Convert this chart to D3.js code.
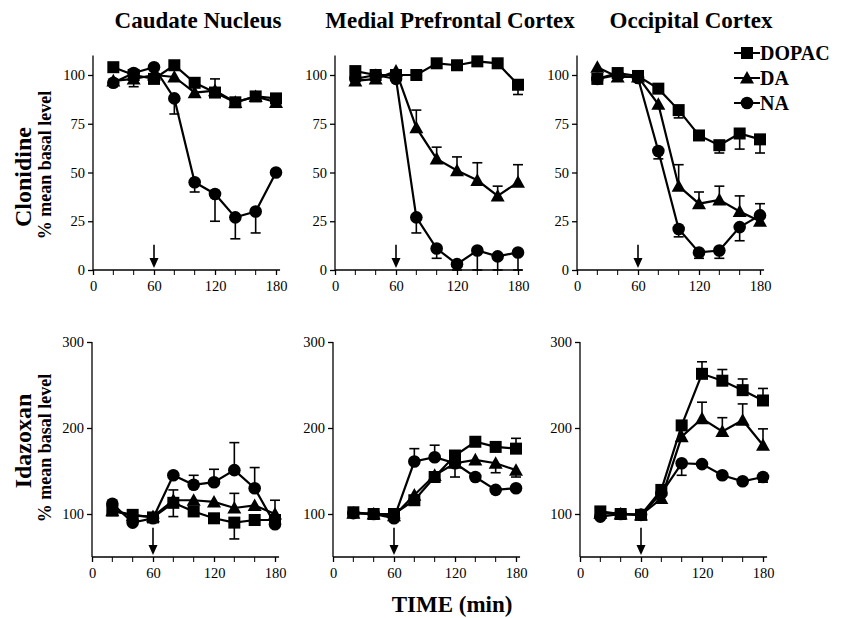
<!DOCTYPE html>
<html>
<head>
<meta charset="utf-8">
<script src="https://cdn.jsdelivr.net/npm/d3@7"></script>
<style>
  body { margin: 0; background: #fff; }
  svg text { font-family: "Liberation Serif", "Times New Roman", serif; fill: #000; }
</style>
</head>
<body>
<svg id="chart" width="845" height="618"></svg>
<script>
// sampling times (min)
const times = [20, 40, 60, 80, 100, 120, 140, 160, 180];
const regions = ["Caudate Nucleus", "Medial Prefrontal Cortex", "Occipital Cortex"];
const drugs = ["Clonidine", "Idazoxan"];
const seriesNames = ["DOPAC", "DA", "NA"];
const xTicks = [0, 60, 120, 180];
const xMinor = [20, 40, 80, 100, 140, 160];
const yTicksClon = [0, 25, 50, 75, 100];
const yTicksIdaz = [100, 200, 300];

// values per panel: [DOPAC, DA, NA], % of mean basal level
const clonCaudate = [
    [104, 100, 98, 105, 96, 91, 86, 89, 88],
    [97, 98, 100, 99, 91, 92, 86, 89, 86],
    [96, 101, 104, 88, 45, 39, 27, 30, 50]
];
const clonPrefrontal = [
    [102, 100, 100, 100, 106, 105, 107, 106, 95],
    [97, 98, 102, 73, 57, 51, 46, 38, 45],
    [98, 100, 98, 27, 11, 3, 10, 7, 9]
];
const clonOccipital = [
    [98, 101, 99.5, 93, 82, 69, 64, 70, 67],
    [104, 99, 99, 85, 43, 34, 36, 30, 25],
    [98, 100, 98.5, 61, 21, 9, 10, 22, 28]
];
const idazCaudate = [
    [104, 99, 96, 113, 103, 95, 90, 93, 93],
    [104, 98, 97, 116, 116, 114, 107, 110, 100],
    [112, 90, 95, 145, 134, 137, 151, 130, 88]
];
const idazPrefrontal = [
    [102, 100, 100, 116, 143, 168, 184, 178, 176],
    [101, 100, 98, 122, 145, 159, 163, 159, 151],
    [101, 100, 95, 161, 166, 159, 143, 128, 130]
];
const idazOccipital = [
    [103, 100, 99, 128, 203, 263, 255, 244, 232],
    [101, 100, 99, 118, 190, 211, 196, 209, 180],
    [97, 100, 99, 124, 159, 158, 145, 138, 143]
];

// one-sided SEM bars: + drawn upward, - drawn downward
const errClonCaudate = [
    [0, -6, 0, 0, 0, 0, 0, 0, 0],
    [0, 0, 0, 0, 0, 6, 0, 0, 0],
    [0, 0, 0, -8, -5, -14, -11, -11, 0]
];
const errClonPrefrontal = [
    [0, 0, 0, 0, 0, 0, 0, -2, -5],
    [0, 0, 0, 9, 6, 7, 9, 5, 9],
    [0, 0, 0, -8, -5, -3, -10, -7, -9]
];
const errClonOccipital = [
    [0, 0, 0, 0, -4, 0, -4, -8, -7],
    [0, 0, 0, 0, 11, 6, 7, 8, 0],
    [0, 0, 0, -4, -4, -3, -4, -7, 6]
];
const errIdazCaudate = [
    [0, 0, 0, -16, 0, 0, -19, 0, 0],
    [0, 0, 0, 12, 0, 0, 17, 0, 16],
    [0, 0, 0, 0, 11, 15, 32, 24, 0]
];
const errIdazPrefrontal = [
    [0, 0, 0, 0, 0, 0, 0, 0, 12],
    [0, 0, 0, 0, 0, 0, 0, -11, -8],
    [0, 0, 0, 15, 14, -16, 0, 0, 0]
];
const errIdazOccipital = [
    [0, 0, 0, 0, 0, 14, 13, 13, 14],
    [0, 0, 0, 0, 0, 19, 16, 19, 19],
    [0, 0, 0, 0, -14, 0, 0, 0, -6]
];

const panels = [
    {row: 0, col: 0, vals: clonCaudate, errs: errClonCaudate},
    {row: 0, col: 1, vals: clonPrefrontal, errs: errClonPrefrontal},
    {row: 0, col: 2, vals: clonOccipital, errs: errClonOccipital},
    {row: 1, col: 0, vals: idazCaudate, errs: errIdazCaudate},
    {row: 1, col: 1, vals: idazPrefrontal, errs: errIdazPrefrontal},
    {row: 1, col: 2, vals: idazOccipital, errs: errIdazOccipital}
];

const svg = d3.select("#chart");
const serif = "'Liberation Serif', 'Times New Roman', serif";

// left edge of each column's axis, per row
const colX = [[93, 335, 577], [92, 333, 580]];
const plotW = 183;

function yScaleFor(row) {
    if (row === 0) {
        return d3.scaleLinear().domain([0, 100]).range([270, 75]);
    }
    return d3.scaleLinear().domain([50, 300]).range([557, 342]);
}

function drawMarker(g, kind, cx, cy) {
    if (kind === 0) {
        g.append("rect").attr("x", cx - 6).attr("y", cy - 6)
            .attr("width", 12).attr("height", 12).attr("fill", "#000");
    } else if (kind === 1) {
        let s = 7;
        g.append("path")
            .attr("d", `M${cx},${cy - s} L${cx + s},${cy + s * 0.8} L${cx - s},${cy + s * 0.8} Z`)
            .attr("fill", "#000");
    } else {
        g.append("circle").attr("cx", cx).attr("cy", cy).attr("r", 6.3).attr("fill", "#000");
    }
}

panels.forEach(function(p) {
    let x0 = colX[p.row][p.col];
    let x = d3.scaleLinear().domain([0, 180]).range([x0, x0 + plotW]);
    let y = yScaleFor(p.row);
    let yTop = p.row === 0 ? 110 : 300;
    let yBot = p.row === 0 ? 0 : 50;
    let g = svg.append("g");

    // axes
    let xAxis = g.append("g").attr("transform", `translate(0,${y(yBot)})`)
        .call(d3.axisBottom(x).tickValues(xTicks).tickSize(5).tickSizeOuter(0).tickPadding(6));
    xAxis.select(".domain").attr("d", `M${x0},0H${x(184)}`);
    g.append("g").attr("transform", `translate(0,${y(yBot)})`)
        .selectAll("line").data(xMinor).enter().append("line")
        .attr("x1", (d) => x(d)).attr("x2", (d) => x(d))
        .attr("y1", 0).attr("y2", 5).attr("stroke", "#000");

    let yAxis = g.append("g").attr("transform", `translate(${x0},0)`)
        .call(d3.axisLeft(y).tickValues(p.row === 0 ? yTicksClon : yTicksIdaz)
            .tickSize(5).tickSizeOuter(0).tickPadding(3));
    yAxis.select(".domain").attr("d", `M0,${y(yTop)}V${y(yBot)}`);
    [xAxis, yAxis].forEach(function(ax) {
        ax.attr("font-family", serif).attr("font-size", 14.5);
    });
    g.selectAll(".domain, .tick line").attr("stroke", "#000").attr("stroke-width", 1.3);
    g.selectAll(".tick text").style("font-family", serif).attr("fill", "#000");

    // drug injection arrow at 60 min
    let a0 = p.row === 0 ? y(13) : y(84);
    let a1 = y(yBot) - 2;
    g.append("line").attr("x1", x(60)).attr("x2", x(60))
        .attr("y1", a0).attr("y2", a1 - 8).attr("stroke", "#000").attr("stroke-width", 1.6);
    g.append("path")
        .attr("d", `M${x(60) - 4.5},${a1 - 10} L${x(60) + 4.5},${a1 - 10} L${x(60)},${a1} Z`)
        .attr("fill", "#000");

    let line = d3.line().x((d) => x(d[0])).y((d) => y(d[1]));

    p.vals.forEach(function(vals, k) {
        let pts = times.map((t, i) => [t, vals[i]]);
        let errs = p.errs[k];

        // error bars with caps
        pts.forEach(function(d, i) {
            if (!errs[i]) return;
            let ye = y(d[1] + errs[i]);
            g.append("line").attr("x1", x(d[0])).attr("x2", x(d[0]))
                .attr("y1", y(d[1])).attr("y2", ye).attr("stroke", "#000").attr("stroke-width", 1.6);
            g.append("line").attr("x1", x(d[0]) - 5).attr("x2", x(d[0]) + 5)
                .attr("y1", ye).attr("y2", ye).attr("stroke", "#000").attr("stroke-width", 1.6);
        });

        g.append("path").datum(pts).attr("d", line)
            .attr("fill", "none").attr("stroke", "#000").attr("stroke-width", 2.2);
        pts.forEach((d) => drawMarker(g, k, x(d[0]), y(d[1])));
    });
});

// column titles
const titleX = [198, 450, 691];
regions.forEach(function(r, i) {
    svg.append("text").attr("x", titleX[i]).attr("y", 28)
        .attr("text-anchor", "middle").attr("font-weight", "bold").attr("font-size", 23)
        .text(r);
});

// row labels
const rowCenter = [[177, 165], [441, 448]];
drugs.forEach(function(d, i) {
    svg.append("text")
        .attr("transform", `translate(31,${rowCenter[i][0]}) rotate(-90)`)
        .attr("text-anchor", "middle").attr("font-weight", "bold").attr("font-size", 24)
        .text(d);
    svg.append("text")
        .attr("transform", `translate(51,${rowCenter[i][1]}) rotate(-90)`)
        .attr("text-anchor", "middle").attr("font-weight", "bold").attr("font-size", 18)
        .text("% mean basal level");
});

// legend
const legendY = [53, 78, 103];
seriesNames.forEach(function(name, k) {
    let lg = svg.append("g");
    lg.append("line").attr("x1", 734).attr("x2", 760)
        .attr("y1", legendY[k]).attr("y2", legendY[k]).attr("stroke", "#000").attr("stroke-width", 2);
    drawMarker(lg, k, 747, legendY[k]);
    lg.append("text").attr("x", 760).attr("y", legendY[k] + 7)
        .attr("font-weight", "bold").attr("font-size", 20).text(name);
});

svg.append("text").attr("x", 452).attr("y", 612)
    .attr("text-anchor", "middle").attr("font-weight", "bold").attr("font-size", 23)
    .text("TIME (min)");
</script>
</body>
</html>
